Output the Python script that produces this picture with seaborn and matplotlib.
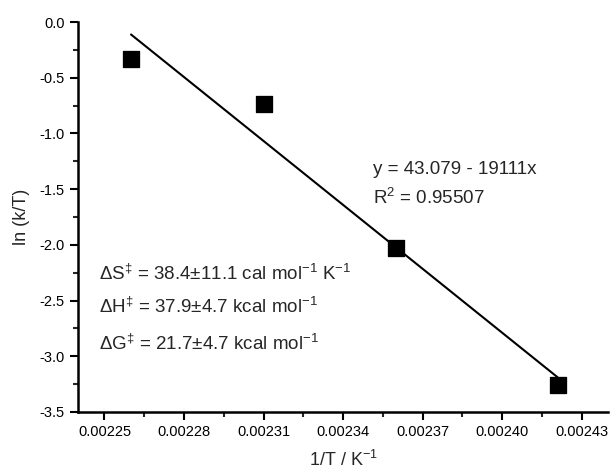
import matplotlib
matplotlib.use("Agg")
import matplotlib.pyplot as plt
from matplotlib.ticker import MultipleLocator, FormatStrFormatter
import numpy as np
import pandas as pd
import seaborn as sns

# Eyring plot data
inv_T = [0.002260, 0.002310, 0.002360, 0.002421]
ln_k_T = [-0.33, -0.74, -2.03, -3.26]

# fitted line as labelled on the chart
fit_intercept = 43.079
fit_slope = -19111.0

fit_label = ["y = 43.079 - 19111x", "R$^2$ = 0.95507"]
param_label = [
    r"$\Delta$S$^{\ddag}$ = 38.4$\pm$11.1 cal mol$^{-1}$ K$^{-1}$",
    r"$\Delta$H$^{\ddag}$ = 37.9$\pm$4.7 kcal mol$^{-1}$",
    r"$\Delta$G$^{\ddag}$ = 21.7$\pm$4.7 kcal mol$^{-1}$",
]

sns.set_style("ticks")
plt.rcParams['font.family'] = ['Liberation Sans', 'DejaVu Sans']
plt.rcParams['mathtext.fontset'] = 'custom'
plt.rcParams['mathtext.rm'] = 'Liberation Sans'
plt.rcParams['mathtext.it'] = 'Liberation Sans'
plt.rcParams['mathtext.default'] = 'regular'

df = pd.DataFrame({'x': inv_T, 'y': ln_k_T})
line_x = np.array([inv_T[0], inv_T[-1]])
line_df = pd.DataFrame({'x': line_x, 'y': fit_intercept + fit_slope * line_x})

fig = plt.figure(figsize=(6.11, 4.75), dpi=100)
ax = fig.add_axes([78 / 611, 1 - 412 / 475, 530 / 611, 390 / 475])

sns.lineplot(data=line_df, x='x', y='y', ax=ax, color='black', linewidth=1.5)
sns.scatterplot(data=df, x='x', y='y', ax=ax, marker='s', s=140,
                color='black', edgecolor='black', zorder=3)

ax.set_xlim(0.00224, 0.002440)
ax.set_ylim(-3.5, 0.0)
ax.xaxis.set_major_locator(MultipleLocator(0.00003))
ax.xaxis.set_minor_locator(MultipleLocator(0.000015))
ax.yaxis.set_major_locator(MultipleLocator(0.5))
ax.yaxis.set_minor_locator(MultipleLocator(0.25))
ax.set_xticks(np.arange(0.00225, 0.002431, 0.00003))
ax.xaxis.set_major_formatter(FormatStrFormatter('%.5f'))
ax.yaxis.set_major_formatter(FormatStrFormatter('%.1f'))

for side in ['top', 'right']:
    ax.spines[side].set_visible(False)
for side in ['left', 'bottom']:
    ax.spines[side].set_linewidth(1.8)
    ax.spines[side].set_color('black')
ax.tick_params(which='major', length=6, width=1.5, labelsize=10.5, colors='black')
ax.tick_params(which='minor', length=3.5, width=1.5)

ax.set_xlabel("1/T / K$^{-1}$", fontsize=13, labelpad=8)
ax.set_ylabel("ln (k/T)", fontsize=13, labelpad=7)

ax.text(0.0023515, -1.32, fit_label[0], fontsize=13.5, va='center')
ax.text(0.0023515, -1.575, fit_label[1], fontsize=13.5, va='center')
for lbl, yy in zip(param_label, [-2.26, -2.56, -2.89]):
    ax.text(0.0022478, yy, lbl, fontsize=13.5, va='center')

fig.savefig('out.png', dpi=100)
